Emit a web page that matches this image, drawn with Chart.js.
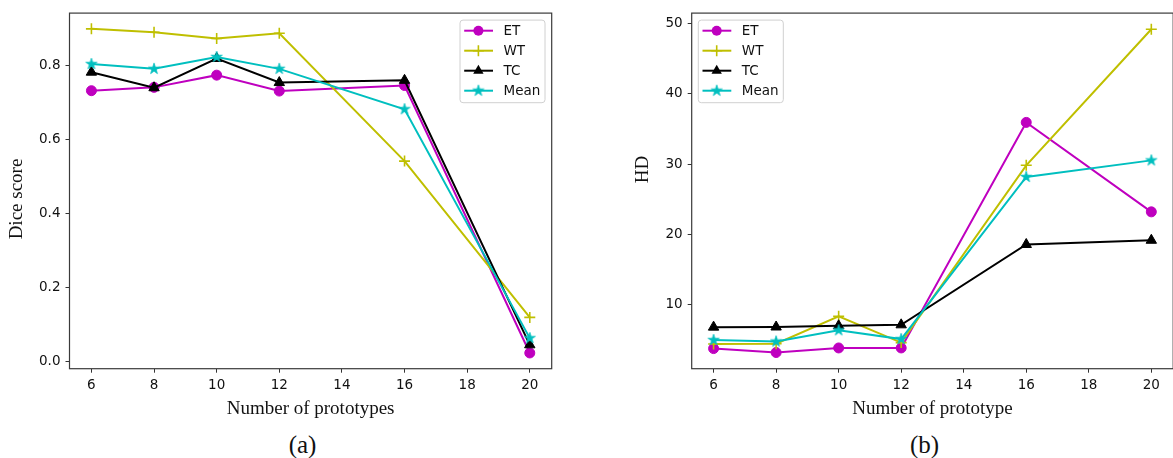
<!DOCTYPE html>
<html>
<head>
<meta charset="utf-8">
<script src="https://cdn.jsdelivr.net/npm/chart.js@4/dist/chart.umd.min.js"></script>
<style>
  html, body { margin:0; padding:0; background:#fff; }
  body { width:1173px; height:458px; position:relative; overflow:hidden; }
  .wrap { position:absolute; top:0; height:425px; }
  .cap { position:absolute; width:100px; text-align:center; font-family:'Liberation Serif', serif; font-size:25px; line-height:30px; color:#111; }
</style>
</head>
<body>
<div class="wrap" style="left:0;width:580px;"><canvas id="ca"></canvas></div>
<div class="wrap" style="left:630px;width:570px;"><canvas id="cb"></canvas></div>
<div class="cap" style="left:252.5px;top:430px;">(a)</div>
<div class="cap" style="left:874.5px;top:430px;">(b)</div>
<script>
// ---- data ----
const prototypes = [6, 8, 10, 12, 16, 20];
const xTicks = [6, 8, 10, 12, 14, 16, 18, 20];
const seriesLabels = ['ET', 'WT', 'TC', 'Mean'];

const diceET   = [0.731, 0.740, 0.773, 0.730, 0.745, 0.023];
const diceWT   = [0.898, 0.889, 0.872, 0.886, 0.541, 0.119];
const diceTC   = [0.781, 0.739, 0.818, 0.753, 0.759, 0.045];
const diceMean = [0.803, 0.790, 0.822, 0.790, 0.681, 0.063];
const diceTicks = [0.0, 0.2, 0.4, 0.6, 0.8];

const hdET   = [3.80, 3.24, 3.89, 3.89, 35.96, 23.24];
const hdWT   = [4.45, 4.50, 8.40, 4.65, 29.86, 49.20];
const hdTC   = [6.85, 6.87, 7.04, 7.18, 18.60, 19.20];
const hdMean = [5.02, 4.80, 6.40, 5.15, 28.20, 30.56];
const hdTicks = [10, 20, 30, 40, 50];

// ---- styling ----
const colors = ['#bf00bf', '#bfbf00', '#000000', '#00bfbf'];

function makeStar(color, R) {
  const s = Math.ceil(R * 2 + 2);
  const c = document.createElement('canvas');
  c.width = s; c.height = s;
  const g = c.getContext('2d');
  const cx = s / 2, cy = s / 2, r = R * 0.382;
  g.beginPath();
  for (let k = 0; k < 10; k++) {
    const a = -Math.PI / 2 + k * Math.PI / 5;
    const rr = (k % 2) ? r : R;
    g.lineTo(cx + rr * Math.cos(a), cy + rr * Math.sin(a));
  }
  g.closePath();
  g.fillStyle = color; g.fill();
  g.strokeStyle = color; g.lineWidth = 0.8; g.stroke();
  return c;
}
const starImg = makeStar(colors[3], 5.8);

const markerStyles = [
  { pointStyle: 'circle', pointRadius: 5, pointBorderWidth: 1 },
  { pointStyle: 'cross', pointRadius: 5.5, pointBorderWidth: 1.6 },
  { pointStyle: 'triangle', pointRadius: 6, pointBorderWidth: 1 },
  { pointStyle: starImg, pointRadius: 6, pointBorderWidth: 1 }
];

function buildDatasets(arrays) {
  return arrays.map((arr, i) => Object.assign({
    label: seriesLabels[i],
    data: prototypes.map((x, j) => ({ x: x, y: arr[j] })),
    borderColor: colors[i],
    backgroundColor: colors[i],
    pointBackgroundColor: colors[i],
    pointBorderColor: colors[i],
    borderWidth: 2,
    tension: 0,
    fill: false,
    order: 4 - i
  }, markerStyles[i]));
}

function drawLegendMarker(ctx, ds, x, y) {
  const st = ds.pointStyle, r = ds.pointRadius, col = ds.borderColor;
  ctx.save();
  ctx.fillStyle = col; ctx.strokeStyle = col;
  if (st === 'circle') {
    ctx.beginPath(); ctx.arc(x, y, r, 0, Math.PI * 2); ctx.fill();
  } else if (st === 'cross') {
    ctx.lineWidth = ds.pointBorderWidth;
    ctx.beginPath(); ctx.moveTo(x - r, y); ctx.lineTo(x + r, y); ctx.moveTo(x, y - r); ctx.lineTo(x, y + r); ctx.stroke();
  } else if (st === 'triangle') {
    ctx.beginPath();
    for (let k = 0; k < 3; k++) {
      const a = -Math.PI / 2 + k * 2 * Math.PI / 3;
      ctx.lineTo(x + r * Math.cos(a), y + r * Math.sin(a));
    }
    ctx.closePath(); ctx.fill();
  } else if (st instanceof HTMLCanvasElement) {
    ctx.drawImage(st, x - st.width / 2, y - st.height / 2);
  }
  ctx.restore();
}

function roundRect(ctx, x, y, w, h, r) {
  ctx.beginPath();
  ctx.moveTo(x + r, y);
  ctx.lineTo(x + w - r, y); ctx.arcTo(x + w, y, x + w, y + r, r);
  ctx.lineTo(x + w, y + h - r); ctx.arcTo(x + w, y + h, x + w - r, y + h, r);
  ctx.lineTo(x + r, y + h); ctx.arcTo(x, y + h, x, y + h - r, r);
  ctx.lineTo(x, y + r); ctx.arcTo(x, y, x + r, y, r);
  ctx.closePath();
}

const framePlugin = {
  id: 'mplFrame',
  afterDatasetsDraw(chart, args, opts) {
    const ctx = chart.ctx, a = chart.chartArea;
    ctx.save();
    ctx.strokeStyle = '#3a3a3a'; ctx.lineWidth = 1.2;
    ctx.strokeRect(a.left, a.top, a.right - a.left, a.bottom - a.top);
    // y-axis title (matplotlib-style placement)
    ctx.save();
    ctx.translate(opts.yTitleX, opts.yTitleY);
    ctx.rotate(-Math.PI / 2);
    ctx.font = '19px "Liberation Serif"';
    ctx.fillStyle = '#111'; ctx.textAlign = 'center'; ctx.textBaseline = 'middle';
    ctx.fillText(opts.yTitle, 0, 0);
    ctx.restore();
    // legend
    const w = 85, h = 82.6;
    const bx = opts.side === 'right' ? a.right - 6.7 - w : a.left + 6.6;
    const by = a.top + 7;
    roundRect(ctx, bx, by, w, h, 3);
    ctx.fillStyle = 'rgba(255,255,255,0.85)'; ctx.fill();
    ctx.strokeStyle = '#d0d0d0'; ctx.lineWidth = 1; ctx.stroke();
    ctx.font = '13.5px "DejaVu Sans"';
    ctx.textBaseline = 'middle'; ctx.textAlign = 'left';
    chart.data.datasets.forEach((ds, i) => {
      const y = by + 10.6 + i * 20;
      ctx.strokeStyle = ds.borderColor; ctx.lineWidth = 2;
      ctx.beginPath(); ctx.moveTo(bx + 4.2, y); ctx.lineTo(bx + 33, y); ctx.stroke();
      drawLegendMarker(ctx, ds, bx + 18.4, y);
      ctx.fillStyle = '#111';
      ctx.fillText(ds.label, bx + 43.5, y + 0.5);
    });
    ctx.restore();
  }
};

function makeChart(id, arrays, cfg) {
  return new Chart(document.getElementById(id), {
    type: 'line',
    data: { datasets: buildDatasets(arrays) },
    plugins: [framePlugin],
    options: {
      responsive: true,
      maintainAspectRatio: false,
      animation: false,
      devicePixelRatio: 1,
      layout: { padding: { top: 9.7, right: cfg.padRight, bottom: 0, left: 0 } },
      plugins: {
        legend: { display: false },
        tooltip: { enabled: false },
        mplFrame: { side: cfg.legendSide, yTitle: cfg.yTitle, yTitleX: cfg.yTitleX, yTitleY: cfg.yTitleY }
      },
      scales: {
        x: {
          type: 'linear', min: 5.3, max: 20.7,
          afterBuildTicks: s => { s.ticks = xTicks.map(v => ({ value: v })); },
          afterFit: s => { s.height = 56.3; },
          border: { display: false },
          grid: { drawOnChartArea: false, drawTicks: true, tickLength: 4, color: '#333', lineWidth: 1 },
          ticks: { font: { family: 'DejaVu Sans', size: 13.5 }, color: '#111', padding: 5, maxRotation: 0, autoSkip: false, callback: v => String(v) },
          title: { display: true, text: cfg.xTitle, font: { family: 'Liberation Serif', size: 19 }, color: '#111', padding: { top: 0, bottom: 5 } }
        },
        y: {
          type: 'linear', min: cfg.yMin, max: cfg.yMax,
          afterBuildTicks: s => { s.ticks = cfg.yTicks.map(v => ({ value: v })); },
          afterFit: s => { s.width = cfg.yWidth; },
          border: { display: false },
          grid: { drawOnChartArea: false, drawTicks: true, tickLength: 4, color: '#333', lineWidth: 1 },
          ticks: { font: { family: 'DejaVu Sans', size: 13.5 }, color: '#111', padding: 5, autoSkip: false, callback: cfg.fmt },
          title: { display: false, text: cfg.yTitle }
        }
      }
    }
  });
}

makeChart('ca', [diceET, diceWT, diceTC, diceMean], {
  yMin: -0.0195, yMax: 0.9405, yTicks: diceTicks, fmt: v => v.toFixed(1),
  yTitle: 'Dice score', xTitle: 'Number of prototypes',
  yWidth: 69.5, padRight: 28.3, legendSide: 'right', yTitleX: 17, yTitleY: 199
});
makeChart('cb', [hdET, hdWT, hdTC, hdMean], {
  yMin: 0.94, yMax: 51.5, yTicks: hdTicks, fmt: v => String(v),
  yTitle: 'HD', xTitle: 'Number of prototype',
  yWidth: 61.7, padRight: 26.8, legendSide: 'left', yTitleX: 12.7, yTitleY: 169.5
});
</script>
</body>
</html>
